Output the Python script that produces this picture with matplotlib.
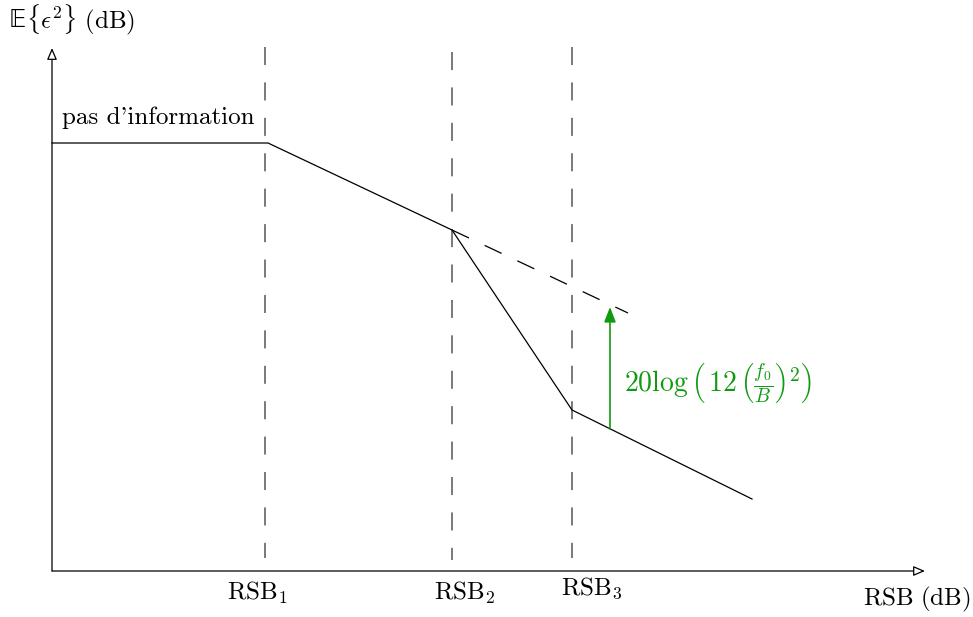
import matplotlib
matplotlib.use("Agg")
import matplotlib.pyplot as plt

plt.rcParams['mathtext.fontset'] = 'cm'
plt.rcParams['lines.scale_dashes'] = False

# Data (abstract units: x = RSB, y = E{eps^2}, origin at axis corner)
rsb_positions = [213, 400, 520]
rsb_labels = [r"$\mathrm{RSB}_1$", r"$\mathrm{RSB}_2$", r"$\mathrm{RSB}_3$"]
curve_x = [0, 216, 400, 520, 700]
curve_y = [428, 428, 341, 161, 72]
ext_x = [400, 576]
ext_y = [341, 258]
gain_x = 558
gain_bottom = 142
gain_top = 264
vline_bottom = [13, 11, 13]
vline_top = [524, 519, 524]
x_axis_end = 873
y_axis_end = 523

fig = plt.figure(figsize=(9.73, 6.17), dpi=100)
ax = fig.add_axes([0, 0, 1, 1])
ax.set_xlim(-52, 921)
ax.set_ylim(-46, 571)
ax.axis('off')

green = '#109a10'
FS = 18

# axes with open arrow heads
ax.annotate('', xy=(x_axis_end, 0), xytext=(0, 0),
            arrowprops=dict(arrowstyle='-|>,head_length=0.7,head_width=0.3',
                            fc='white', ec='black', lw=0.9, shrinkA=0, shrinkB=0))
ax.annotate('', xy=(0, y_axis_end), xytext=(0, 0),
            arrowprops=dict(arrowstyle='-|>,head_length=0.7,head_width=0.3',
                            fc='white', ec='black', lw=0.9, shrinkA=0, shrinkB=0))

# vertical dashed lines
for xp, b, t in zip(rsb_positions, vline_bottom, vline_top):
    ax.plot([xp, xp], [t, b], color='#555555', lw=1.1, dashes=(13, 12.5))

# curve
ax.plot(curve_x, curve_y, color='black', lw=0.9)
ax.plot(ext_x, ext_y, color='black', lw=0.9, dashes=(13.5, 12.5))

# green arrow
ax.annotate('', xy=(gain_x, gain_top), xytext=(gain_x, gain_bottom),
            arrowprops=dict(arrowstyle='-|>,head_length=0.9,head_width=0.35',
                            fc=green, ec=green, lw=1.2, shrinkA=0, shrinkB=0))
ax.text(572, 188, r"$20\log\left(\,12\,\left(\frac{f_0}{B}\right)^{2}\right)$",
        color=green, fontsize=20, ha='left', va='center')

# labels
label_x = [205, 412, 540]
label_y = [-22, -22, -17]
for lx, ly, lab in zip(label_x, label_y, rsb_labels):
    ax.text(lx, ly, lab, fontsize=FS, ha='center', va='center')

ax.text(865, -28, r"$\mathrm{RSB\ (dB)}$", fontsize=FS, ha='center', va='center')
ax.text(-43, 551, "\U0001D53C", fontfamily='DejaVu Sans', fontsize=FS - 1,
        ha='left', va='center')
ax.text(-26, 551, r"$\{\epsilon^2\}\ \mathrm{(dB)}$", fontsize=FS,
        ha='left', va='center')
ax.text(106, 453, "pas d'information", fontfamily='cmr10', fontsize=FS,
        ha='center', va='center')

fig.savefig('out.png', dpi=100)
